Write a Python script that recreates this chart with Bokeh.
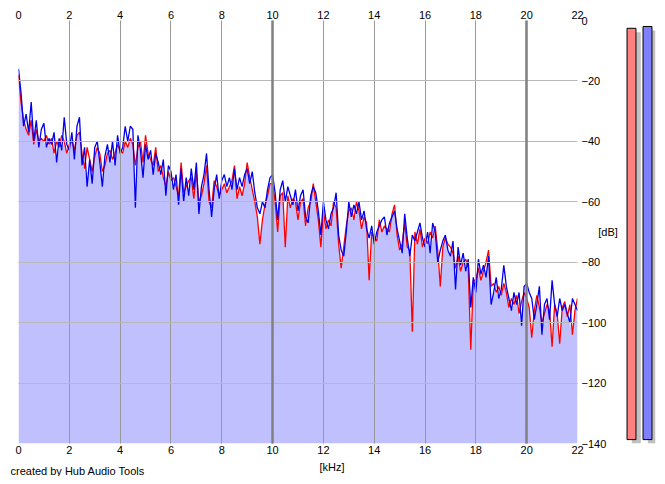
from bokeh.plotting import figure
from bokeh.models import LinearAxis, FixedTicker, Grid, FactorRange, Range1d, ColumnDataSource
from bokeh.layouts import row, column
from bokeh.embed import file_html
from bokeh.resources import INLINE
from bokeh.transform import dodge
from bokeh.core.properties import value

# ---------------- data ----------------
bin_khz = 0.1
x_ticks = [0, 2, 4, 6, 8, 10, 12, 14, 16, 18, 20, 22]
x_major = [0, 10, 20]
y_ticks = [0, -20, -40, -60, -80, -100, -120, -140]

# right channel (blue), dB every 0.1 kHz from 0 to 22 kHz
blue = [
    -16, -24, -35, -31, -37, -27, -40, -33, -42, -36,
    -34, -42, -39, -41, -37, -47, -39, -43, -32, -41,
    -43, -37, -46, -35, -32, -48, -42, -55, -46, -54,
    -42, -40, -47, -55, -45, -41, -47, -40, -48, -38,
    -44, -42, -35, -40, -35, -36, -62, -38, -43, -52,
    -41, -46, -43, -51, -44, -47, -51, -46, -58, -48,
    -50, -56, -51, -61, -49, -60, -52, -58, -49, -56,
    -47, -64, -55, -51, -44, -56, -65, -56, -51, -59,
    -53, -51, -55, -52, -56, -49, -56, -52, -55, -51,
    -49, -54, -50, -57, -62, -64, -60, -62, -56, -52,
    -51, -57, -66, -56, -53, -60, -55, -58, -61, -56,
    -63, -58, -56, -65, -67, -58, -55, -57, -63, -71,
    -60, -66, -69, -64, -62, -57, -71, -76, -78, -70,
    -60, -65, -61, -64, -60, -66, -63, -69, -72, -68,
    -74, -70, -68, -66, -65, -71, -67, -65, -63, -69,
    -73, -77, -64, -72, -78, -71, -73, -70, -67, -72,
    -75, -70, -77, -67, -70, -80, -76, -73, -71, -76,
    -78, -73, -89, -75, -81, -77, -83, -79, -95, -85,
    -90, -79, -84, -81, -85, -78, -94, -90, -85, -92,
    -89, -81, -88, -92, -96, -90, -94, -90, -101, -88,
    -87, -90, -92, -99, -94, -88, -104, -94, -92, -99,
    -86, -94, -98, -92, -96, -94, -97, -100, -92, -94, -96,
]

# left channel (red), dB every 0.1 kHz from 0 to 22 kHz
red = [
    -18, -27, -33, -36, -38, -33, -41, -36, -40, -39,
    -40, -38, -41, -39, -44, -40, -42, -38, -40, -44,
    -41, -40, -43, -38, -37, -44, -49, -42, -46, -50,
    -45, -42, -44, -50, -48, -44, -43, -46, -44, -41,
    -43, -44, -40, -42, -39, -41, -48, -42, -40, -47,
    -38, -44, -46, -48, -42, -50, -48, -52, -55, -50,
    -53, -52, -55, -58, -47, -57, -55, -53, -52, -59,
    -50, -60, -58, -54, -48, -60, -62, -53, -55, -58,
    -56, -54, -57, -55, -53, -48, -59, -55, -58, -54,
    -47, -52, -56, -60, -65, -74, -66, -61, -58, -54,
    -54, -60, -70, -58, -57, -75, -58, -62, -59, -60,
    -66, -60, -59, -68, -62, -60, -54, -60, -66, -75,
    -63, -69, -66, -68, -60, -62, -74, -82, -75, -68,
    -63, -62, -66, -60, -63, -69, -65, -67, -86, -70,
    -72, -73, -66, -70, -68, -69, -70, -64, -61, -71,
    -76, -74, -67, -75, -76, -103, -70, -74, -69, -75,
    -72, -74, -70, -72, -68, -76, -88, -75, -72, -74,
    -75, -77, -82, -78, -83, -80, -79, -82, -109, -86,
    -86, -82, -86, -83, -80, -76, -88, -87, -90, -88,
    -91, -87, -90, -95, -92, -94, -91, -97, -93, -90,
    -92, -95, -105, -96, -91, -95, -100, -97, -94, -96,
    -108, -94, -97, -107, -95, -93, -98, -94, -104, -96, -92,
]

channels = ["L", "R"]
meter_levels = [-2.6, -2.0]
meter_colors = ["#ff8080", "#8080ff"]

footer_texts = ["[kHz]", "created by Hub Audio Tools"]

# ---------------- spectrum figure ----------------
freq = [round(i * bin_khz, 1) for i in range(len(blue))]
fill_top = [min(a, b) for a, b in zip(red, blue)]
src = ColumnDataSource(dict(f=freq, red=red, blue=blue, fill=fill_top))

FONT = "Liberation Sans"

p = figure(width=620, height=460, x_range=Range1d(0, 22), y_range=Range1d(-140, 0),
           output_backend="svg", toolbar_location=None,
           x_axis_location="below", y_axis_location="right",
           min_border_left=18, min_border_right=37, min_border_top=20, min_border_bottom=17)
p.outline_line_color = None
p.background_fill_color = "white"
p.border_fill_color = "white"

p.varea(x="f", y1=-140, y2="fill", source=src, fill_color="#c0c0ff")
p.line(x="f", y="red", source=src, line_color="#ff0000", line_width=1.3)
p.line(x="f", y="blue", source=src, line_color="#0000ee", line_width=1.3)

top_axis = LinearAxis()
p.add_layout(top_axis, "above")

for ax in p.xaxis:
    ax.ticker = FixedTicker(ticks=x_ticks)
    ax.major_label_standoff = 2
for ax in p.yaxis:
    ax.ticker = FixedTicker(ticks=y_ticks)
    ax.major_label_standoff = 4
    ax.axis_label = "[dB]"
    ax.axis_label_orientation = "horizontal"
    ax.axis_label_standoff = -11
    ax.axis_label_text_font = FONT
    ax.axis_label_text_font_size = "11px"
    ax.axis_label_text_font_style = "normal"
    ax.axis_label_text_color = "#000000"
for ax in p.axis:
    ax.axis_line_color = None
    ax.major_tick_line_color = None
    ax.minor_tick_line_color = None
    ax.major_tick_out = 0
    ax.major_tick_in = 0
    ax.major_label_text_font = FONT
    ax.major_label_text_font_size = "11px"
    ax.major_label_text_color = "#000000"

p.xgrid.ticker = FixedTicker(ticks=x_ticks)
p.xgrid.grid_line_color = "#999999"
p.xgrid.grid_line_width = 1
p.xgrid.level = "overlay"
p.ygrid.ticker = FixedTicker(ticks=y_ticks)
p.ygrid.grid_line_color = "#b8b8b8"
p.ygrid.grid_line_width = 1
p.ygrid.level = "overlay"

major_grid = Grid(dimension=0, ticker=FixedTicker(ticks=x_major),
                  grid_line_color="#808080", grid_line_width=2.5, level="overlay")
p.add_layout(major_grid)

# ---------------- level meter figure ----------------
meter_floor = -140
shadow_drop = 1.3
msrc = ColumnDataSource(dict(ch=channels, level=meter_levels, color=meter_colors,
                             shadow=[v - shadow_drop for v in meter_levels]))

p2 = figure(width=37, height=460, x_range=FactorRange(factors=channels, range_padding=0),
            y_range=Range1d(meter_floor - shadow_drop, 0),
            output_backend="svg", toolbar_location=None,
            x_axis_location=None, y_axis_location=None,
            min_border_left=3, min_border_right=2, min_border_top=20, min_border_bottom=13)
p2.outline_line_color = None
p2.xgrid.visible = False
p2.ygrid.visible = False
p2.background_fill_color = "white"
p2.border_fill_color = "white"

p2.vbar(x=dodge("ch", 0.3, range=p2.x_range), top="shadow", bottom=meter_floor - shadow_drop,
        width=0.56, source=msrc, fill_color="#c0c0c0", line_color=None)
p2.vbar(x="ch", top="level", bottom=meter_floor, width=0.56, source=msrc,
        fill_color="color", line_color="#000000", line_width=1)

# ---------------- footer strip (axis unit and credit line) ----------------
fsrc = ColumnDataSource(dict(t=footer_texts, x=[319, 10], y=[6, 10.5]))
p3 = figure(width=657, height=16, x_range=Range1d(0, 657), y_range=Range1d(16, 0),
            output_backend="svg", toolbar_location=None,
            x_axis_location=None, y_axis_location=None,
            min_border_left=0, min_border_right=0, min_border_top=0, min_border_bottom=0)
p3.outline_line_color = None
p3.xgrid.visible = False
p3.ygrid.visible = False
p3.text(x="x", y="y", text="t", source=fsrc, text_font=value(FONT), text_font_size="11px",
        text_baseline="middle", text_align="left", text_color="#000000")

layout = column(row(p, p2), p3)
open("out.html", "w").write(file_html(layout, INLINE))
